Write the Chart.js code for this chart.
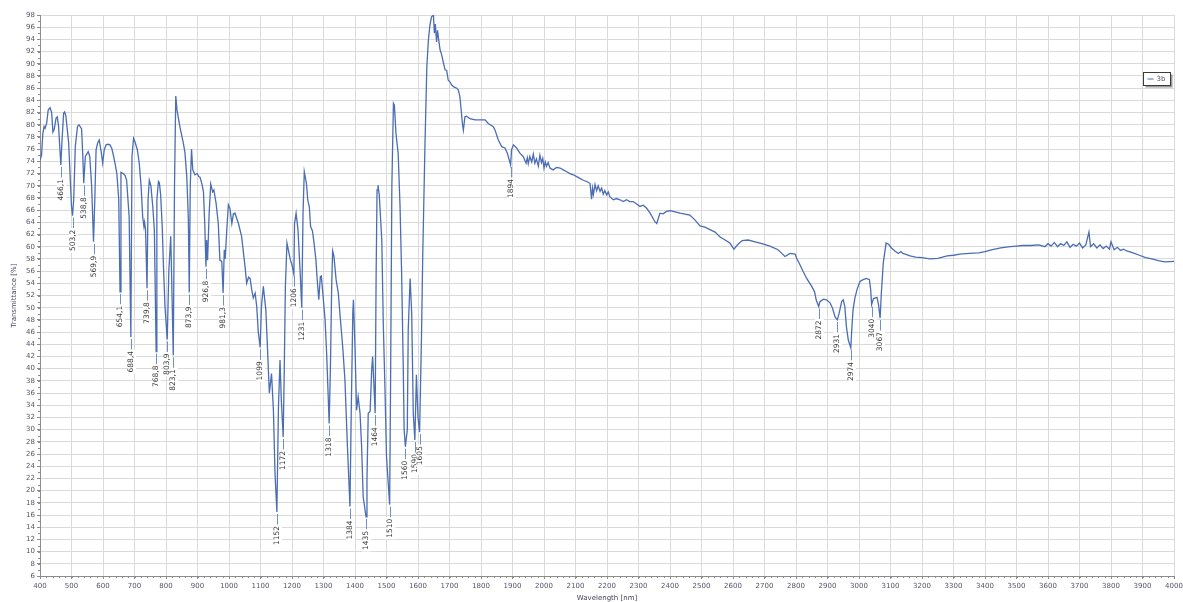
<!DOCTYPE html>
<html>
<head>
<meta charset="utf-8">
<title>IR spectrum 3b</title>
<script src="https://cdn.jsdelivr.net/npm/chart.js@4.4.1/dist/chart.umd.min.js"></script>
<style>
  html, body { margin: 0; padding: 0; background: #ffffff; }
  #wrap { width: 1183px; height: 602px; }
</style>
</head>
<body>
<div id="wrap"><canvas id="ir" width="1183" height="602"></canvas></div>
<script>
// Spectrum sample positions (x axis) and transmittance values [%]
const waveNm = [
  400, 405, 409, 413, 416, 421, 426, 432, 437, 441,
  445, 451, 455, 459, 466.1, 470, 475, 478, 482, 491,
  500, 503.2, 507, 512, 519, 524, 532, 536, 538.8, 544,
  550, 553, 558, 564, 569.9, 574, 578, 583, 588, 595,
  599, 604, 610, 616, 622, 628, 633, 638, 644, 650,
  654.1, 657, 664, 670, 675, 683, 688.4, 692, 697, 701,
  709, 715, 721, 726, 730, 732, 735, 739.8, 743, 747,
  752, 758, 763, 768.8, 771, 776, 779, 783, 788, 792,
  797, 803.9, 809, 815, 818, 823.1, 827, 831, 835, 844,
  855, 860, 866, 871, 873.9, 877, 881, 885, 892, 899,
  904, 908, 914, 919, 923, 926.8, 929, 932, 937, 942,
  948, 952, 959, 966, 971, 977, 981.3, 985, 988, 993,
  998, 1003, 1009, 1014, 1019, 1030, 1040, 1051, 1056, 1062,
  1067, 1072, 1077, 1083, 1088, 1093, 1099, 1103, 1109, 1117,
  1122, 1128, 1135, 1141, 1146, 1152, 1157, 1162, 1166, 1172,
  1175, 1179, 1184, 1189, 1195, 1200, 1206, 1208, 1213, 1219,
  1226, 1231, 1235, 1239, 1246, 1250, 1255, 1259, 1265, 1270,
  1276, 1280, 1285, 1290, 1293, 1297, 1305, 1310, 1318, 1322,
  1326, 1329, 1333, 1340, 1347, 1352, 1361, 1368, 1376, 1384,
  1388, 1393, 1395, 1400, 1405, 1410, 1416, 1421, 1426, 1435,
  1438, 1442, 1448, 1453, 1456, 1464, 1467, 1470, 1473, 1477,
  1485, 1490, 1495, 1500, 1510, 1513, 1517, 1522, 1525, 1530,
  1537, 1543, 1548, 1553, 1556, 1560, 1566, 1569, 1575, 1580,
  1585, 1590, 1595, 1600, 1605, 1611, 1615, 1622, 1628, 1633,
  1638, 1643, 1649, 1652, 1655, 1659, 1662, 1665, 1670, 1675,
  1680, 1686, 1691, 1696, 1702, 1707, 1714, 1723, 1728, 1733,
  1736, 1741, 1744, 1749, 1754, 1765, 1781, 1797, 1813, 1823,
  1839, 1844, 1855, 1866, 1876, 1884, 1894, 1897, 1903, 1913,
  1924, 1934, 1943, 1947, 1950, 1955, 1961, 1966, 1971, 1976,
  1982, 1987, 1992, 1996, 2000, 2004, 2008, 2013,
  2019, 2029, 2040, 2051, 2061, 2072, 2082, 2093, 2104, 2114,
  2125, 2135, 2146, 2151, 2154, 2157, 2162, 2167, 2172, 2178,
  2183, 2188, 2193, 2199, 2204, 2209,
  2220, 2230, 2241, 2252, 2262, 2272, 2283, 2294, 2305, 2315,
  2326, 2337, 2352, 2358, 2368, 2378, 2389, 2400, 2432, 2463,
  2479, 2495, 2511, 2527, 2543, 2559, 2575, 2590, 2603, 2616,
  2629, 2648, 2670, 2692, 2717, 2743, 2749, 2765, 2781, 2797,
  2802, 2813, 2823, 2834, 2850, 2859, 2864, 2872, 2876, 2887,
  2897, 2908, 2916, 2924, 2931, 2937, 2945, 2950, 2955, 2960,
  2966, 2974, 2977, 2981, 2987, 2994, 3003, 3013, 3024, 3033,
  3037, 3040, 3046, 3057, 3062, 3067, 3071, 3077, 3086, 3094,
  3103, 3114, 3125, 3133, 3139, 3151, 3162, 3180, 3200, 3225,
  3250, 3280, 3300, 3320, 3350, 3380, 3400, 3420, 3450, 3480,
  3500, 3520, 3545, 3570, 3590, 3600, 3610, 3620, 3630, 3640,
  3650, 3660, 3670, 3680, 3690, 3700, 3710, 3720, 3730, 3735,
  3745, 3755, 3765, 3775, 3785, 3795, 3800, 3810, 3820, 3830,
  3840, 3850, 3870, 3890, 3910, 3930, 3950, 3970, 4000
];

const transmittance = [
  74.2, 75, 78.6, 79.7, 79.4, 80.2, 82.4, 82.8, 82, 78.8,
  79.2, 81.1, 81.3, 79.7, 73.4, 77.5, 81.9, 82.1, 81.5, 77,
  66.6, 65.1, 67.7, 76.4, 79.7, 80, 79.3, 74.8, 70.4, 74.8,
  75.3, 75.6, 74.8, 69.9, 60.8, 67.7, 75.9, 77, 77.5, 75.3,
  73.7, 75.9, 76.7, 76.8, 76.7, 76.1, 75, 73.7, 72, 67.7,
  52.6, 72.2, 72, 71.7, 70.9, 64.9, 45.2, 74.8, 77.8, 77.3,
  75.9, 73.7, 69.9, 64.9, 63.3, 64, 62.8, 53.2, 67.7, 70.9,
  70, 66.6, 62.8, 42.8, 67.7, 70.7, 70.5, 68.5, 63.3, 56.7,
  50, 44.8, 56, 61.7, 55, 42.2, 70, 84.7, 82.4, 79.7,
  77, 75.5, 71.5, 64.4, 52.5, 70, 76, 72.6, 71.8, 72,
  71.5, 71.4, 70.3, 69, 63.8, 56.7, 61.1, 57.8, 65.5, 70.3,
  69, 69.3, 67.1, 63.8, 57.8, 57.6, 52.4, 59.5, 58, 62.8,
  66.9, 66.3, 63.8, 65.4, 65.5, 63.8, 61.7, 56.7, 54, 55,
  54.8, 53, 51.6, 52.4, 50.2, 46, 43.5, 50.2, 53.5, 49.6,
  43.6, 36, 39.2, 33.2, 22.9, 16.5, 33.8, 41.4, 35, 28.8,
  38.2, 53.5, 60.6, 59.3, 57.8, 57, 55.5, 63.8, 65.5, 62.8,
  55.7, 50, 65.5, 72.3, 70.3, 67.7, 66.5, 63.3, 62.6, 60.6,
  57.8, 54.6, 51.3, 55.1, 55.2, 52.9, 48, 42.5, 31, 40.3,
  53.5, 59.3, 58.5, 54.6, 52.4, 49.1, 43.6, 38.2, 27.2, 17.4,
  32.7, 49.1, 51.3, 43.6, 33.2, 35.4, 32.7, 27.2, 19, 15.7,
  21.8, 32.7, 33, 39.8, 42, 32.7, 55, 69.3, 70.1, 68.5,
  61.1, 46.9, 37.1, 25.6, 17.7, 38.2, 69.9, 83.5, 83.2, 78.6,
  75.3, 66.6, 55.7, 40.9, 30, 27.2, 30, 46.4, 54.8, 49.1,
  32.7, 28.3, 39, 32, 29.6, 45, 58.4, 76.4, 89.5, 93.9,
  96.4, 97.7, 98, 95, 96.5, 93.6, 95.5, 94.2, 92.3, 91.5,
  90.3, 89, 88.9, 87.3, 87, 86.5, 86.2, 86, 85.7, 84.6,
  83, 80.2, 79.1, 81.3, 81.4, 81, 80.8, 80.8, 80.8, 80.2,
  79.7, 79.2, 77.5, 76.4, 76.2, 75.3, 73.4, 75.9, 76.7, 76.2,
  75.3, 74.8, 73.7, 74.6, 73.6, 74.8, 73.9, 75.2, 73.7, 74.4,
  73.2, 75, 73.8, 74.5, 72.9, 73.9, 73.2, 73.8,
  72.9, 72.6, 73, 72.9, 72.6, 72.3, 72, 71.8, 71.5, 71.2,
  70.9, 70.7, 70.4, 67.8, 69.6, 68.6, 70.2, 69.2, 70, 69.1,
  69.6, 68.6, 69.2, 68.5, 69, 68.2,
  67.7, 67.9, 67.7, 67.4, 67.7, 67.4, 67.4, 67, 66.6, 66.8,
  66.3, 65.5, 64.1, 63.8, 65.5, 65.4, 65.8, 65.9, 65.5, 65.2,
  64.4, 63.4, 63.2, 62.8, 62.4, 61.6, 61.1, 60.6, 59.6, 60.4,
  61, 61.1, 60.8, 60.5, 60.1, 59.5, 59.2, 58.4, 58.9, 58.8,
  58.1, 57, 55.9, 54.8, 53.5, 52.6, 51.3, 50.2, 51, 51.4,
  51.3, 50.8, 49.9, 48.5, 48, 49.1, 51, 51.3, 50.2, 46.9,
  44.7, 43.4, 46.4, 49.6, 51.6, 53, 54.3, 54.6, 54.8, 54.6,
  53, 50.5, 51.5, 51.7, 50.5, 48.3, 52.4, 57.3, 60.6, 60.4,
  59.8, 59.3, 58.9, 59.2, 58.9, 58.7, 58.5, 58.3, 58.2, 58,
  58.1, 58.5, 58.6, 58.8, 58.9, 59, 59.2, 59.5, 59.8, 60,
  60.1, 60.2, 60.2, 60.3, 60, 60.5, 60.1, 60.7, 60, 60.5,
  60.2, 60.8, 59.9, 60.4, 60.1, 60.6, 59.8, 60.3, 62.4, 60,
  60.5, 59.8, 60.3, 59.7, 60.1, 59.6, 60.8, 59.5, 59.9, 59.4,
  59.6, 59.3, 59, 58.6, 58.2, 58, 57.7, 57.5, 57.6
];

// Band positions as printed next to each marked minimum
const peakLabels = [
  "466,1", "503,2", "538,8", "569,9", "654,1", "688,4", "739,8", "768,8",
  "803,9", "823,1", "873,9", "926,8", "981,3", "1099", "1152", "1172",
  "1206", "1231", "1318", "1384", "1435", "1464", "1510", "1560",
  "1590", "1605", "1894", "2872", "2931", "2974", "3040", "3067"
];

// Axis ranges and tick spacing
const xRange = [400, 4000];
const xStep = 100;
const yRange = [6, 98];
const yStep = 2;

const seriesName = "3b";
const lineColor = "#4a6db3";
const tickFont = { family: "'DejaVu Sans', sans-serif", size: 7 };
const markFont = "7.5px 'DejaVu Sans', sans-serif";

const points = waveNm.map((x, i) => ({ x: x, y: transmittance[i] }));

// Small ticks between the labelled ones
const minorTicks = {
  id: "minorTicks",
  afterDraw(chart) {
    const { ctx, chartArea, scales } = chart;
    const xs = scales.x, ys = scales.y;
    ctx.save();
    ctx.strokeStyle = "#8c8c8c";
    ctx.lineWidth = 1;
    ctx.beginPath();
    for (let v = xRange[0]; v <= xRange[1]; v += 20) {
      const px = Math.round(xs.getPixelForValue(v)) + 0.5;
      ctx.moveTo(px, chartArea.bottom);
      ctx.lineTo(px, chartArea.bottom + 2);
    }
    for (let v = yRange[0]; v <= yRange[1]; v += 1) {
      const py = Math.round(ys.getPixelForValue(v)) + 0.5;
      ctx.moveTo(chartArea.left - 2, py);
      ctx.lineTo(chartArea.left, py);
    }
    ctx.stroke();
    ctx.restore();
  }
};

// Band markers: short drop line under each minimum plus its rotated value
const bandMarkers = {
  id: "bandMarkers",
  afterDatasetsDraw(chart) {
    const { ctx, scales } = chart;
    const xs = scales.x, ys = scales.y;
    ctx.save();
    ctx.font = markFont;
    peakLabels.forEach(label => {
      const xv = parseFloat(label.replace(",", "."));
      const idx = waveNm.indexOf(xv);
      if (idx < 0) return;
      const px = Math.round(xs.getPixelForValue(xv)) + 0.5;
      const py = ys.getPixelForValue(transmittance[idx]);
      ctx.strokeStyle = "#6f8fcb";
      ctx.lineWidth = 1;
      ctx.beginPath();
      ctx.moveTo(px, py + 2);
      ctx.lineTo(px, py + 13);
      ctx.stroke();
      const w = ctx.measureText(label).width;
      ctx.save();
      ctx.translate(px, py + 14);
      ctx.rotate(-Math.PI / 2);
      ctx.fillStyle = "#ffffff";
      ctx.fillRect(-w - 1.5, -4.5, w + 3, 9);
      ctx.fillStyle = "#3a3a3a";
      ctx.textAlign = "right";
      ctx.textBaseline = "middle";
      ctx.fillText(label, 0, 0);
      ctx.restore();
    });
    ctx.restore();
  }
};

// Compact boxed legend in the upper right corner of the plot
const boxLegend = {
  id: "boxLegend",
  afterDraw(chart) {
    const { ctx } = chart;
    const x = 1143.5, y = 72.5, w = 27, h = 13;
    ctx.save();
    ctx.fillStyle = "#9a9a9a";
    ctx.fillRect(x + 2, y + 2, w, h);
    ctx.fillStyle = "#ffffff";
    ctx.fillRect(x, y, w, h);
    ctx.strokeStyle = "#3c3c3c";
    ctx.lineWidth = 1;
    ctx.strokeRect(x, y, w, h);
    ctx.strokeStyle = lineColor;
    ctx.beginPath();
    ctx.moveTo(x + 4, y + 6.5);
    ctx.lineTo(x + 10, y + 6.5);
    ctx.stroke();
    ctx.fillStyle = "#555566";
    ctx.font = "7px 'DejaVu Sans', sans-serif";
    ctx.textBaseline = "middle";
    ctx.fillText(chart.data.datasets[0].label, x + 13, y + 7);
    ctx.restore();
  }
};

new Chart(document.getElementById("ir"), {
  type: "line",
  data: {
    datasets: [{
      label: seriesName,
      data: points,
      borderColor: lineColor,
      borderWidth: 1.3,
      pointRadius: 0,
      tension: 0,
      fill: false
    }]
  },
  options: {
    responsive: false,
    animation: false,
    devicePixelRatio: 1,
    layout: { padding: { left: 0, right: 9, top: 15, bottom: 0 } },
    plugins: {
      legend: { display: false },
      tooltip: { enabled: false }
    },
    scales: {
      x: {
        type: "linear",
        min: xRange[0],
        max: xRange[1],
        afterFit(scale) {
          scale.height = 26;
          scale.paddingLeft = 0;
          scale.paddingRight = 0;
        },
        ticks: {
          stepSize: xStep,
          autoSkip: false,
          maxRotation: 0,
          color: "#55556a",
          font: tickFont,
          padding: 3,
          callback: v => String(v)
        },
        grid: {
          color: "#dadada",
          lineWidth: 1,
          tickLength: 3,
          tickColor: "#8c8c8c"
        },
        border: { color: "#8c8c8c" },
        title: {
          display: true,
          text: "Wavelength [nm]",
          color: "#44445a",
          font: tickFont,
          padding: { top: 0, bottom: 0 }
        }
      },
      y: {
        type: "linear",
        min: yRange[0],
        max: yRange[1],
        afterFit(scale) {
          scale.width = 40;
          scale.paddingTop = 0;
          scale.paddingBottom = 0;
        },
        ticks: {
          stepSize: yStep,
          autoSkip: false,
          color: "#55556a",
          font: tickFont,
          padding: 2,
          callback: v => String(v)
        },
        grid: {
          color: "#dadada",
          lineWidth: 1,
          tickLength: 3,
          tickColor: "#8c8c8c"
        },
        border: { color: "#8c8c8c" },
        title: {
          display: true,
          text: "Transmittance [%]",
          color: "#44445a",
          font: tickFont,
          padding: { top: 10, bottom: 0 }
        }
      }
    }
  },
  plugins: [minorTicks, bandMarkers, boxLegend]
});
</script>
</body>
</html>
